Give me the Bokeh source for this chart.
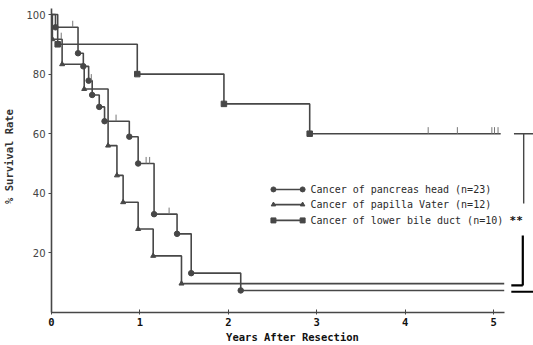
import numpy as np
from bokeh.plotting import figure
from bokeh.models import Range1d, FixedTicker
from bokeh.core.properties import value
from bokeh.embed import file_html
from bokeh.resources import INLINE

# Kaplan-Meier survival after resection: start time (years) of each level and survival (%)
pancreas_t = [0, 0.045, 0.30, 0.36, 0.42, 0.46, 0.54, 0.60, 0.88, 0.98, 1.16, 1.42, 1.58, 2.14, 5.12]
pancreas_s = [100, 95.7, 87.0, 82.6, 77.8, 73.0, 69.0, 64.2, 59.0, 50.0, 33.0, 26.4, 13.2, 7.4, 7.4]
papilla_t = [0, 0.01, 0.12, 0.37, 0.64, 0.74, 0.81, 0.98, 1.15, 1.47, 5.12]
papilla_s = [100, 91.7, 83.3, 75.0, 56.0, 46.0, 37.0, 28.0, 19.0, 9.7, 9.7]
bile_t = [0, 0.07, 0.97, 1.95, 2.92, 5.08]
bile_s = [100, 90.0, 80.0, 70.0, 60.0, 60.0]

# censored observations (years)
pancreas_cens = [0.24, 0.45, 0.73, 1.07, 1.11, 1.33]
papilla_cens = [0.11]
bile_cens = [4.26, 4.59, 4.98, 5.01, 5.05]

series_names = [
    "Cancer of pancreas head (n=23)",
    "Cancer of papilla Vater (n=12)",
    "Cancer of lower bile duct (n=10)",
]
x_ticks = [0, 1, 2, 3, 4, 5]
y_ticks = [20, 40, 60, 80, 100]

LINE = "#474747"
TEXT = "#2a2a2a"
MONO = "DejaVu Sans Mono"

p = figure(width=533, height=345, output_backend="svg", toolbar_location=None,
           x_range=Range1d(0, 5.451), y_range=Range1d(0, 104.7),
           min_border_left=50, min_border_right=0, min_border_top=0,
           min_border_bottom=33)
p.outline_line_color = None
p.xgrid.visible = False
p.ygrid.visible = False
p.background_fill_color = "white"
p.border_fill_color = "white"

# axes
xa = p.xaxis[0]
xa.ticker = FixedTicker(ticks=x_ticks)
xa.bounds = (0, 5.12)
xa.axis_label = "Years After Resection"
xa.axis_label_text_font = MONO
xa.axis_label_text_font_style = "bold"
xa.axis_label_text_font_size = "10.5px"
xa.axis_label_text_color = "#111111"
xa.axis_label_standoff = 2
xa.major_label_text_font = MONO
xa.major_label_text_font_style = "bold"
xa.major_label_text_font_size = "10.5px"
xa.major_label_text_color = "#111111"
xa.major_label_standoff = 3
xa.major_tick_in = 3
xa.major_tick_out = 2
xa.minor_tick_line_color = None
xa.axis_line_color = LINE
xa.axis_line_width = 1.6
xa.major_tick_line_color = LINE

ya = p.yaxis[0]
ya.ticker = FixedTicker(ticks=y_ticks)
ya.bounds = (0, 102)
ya.axis_label = "% Survival Rate"
ya.axis_label_text_font = MONO
ya.axis_label_text_font_style = "bold"
ya.axis_label_text_font_size = "10.5px"
ya.axis_label_text_color = "#333333"
ya.axis_label_standoff = 8
ya.major_label_text_font = "DejaVu Sans"
ya.major_label_text_font_size = "10px"
ya.major_label_text_color = "#444444"
ya.major_label_standoff = 3
ya.major_tick_in = 0
ya.major_tick_out = 3
ya.minor_tick_line_color = None
ya.axis_line_color = LINE
ya.axis_line_width = 1.6
ya.major_tick_line_color = LINE


def level_at(ts, ss, t):
    i = np.searchsorted(np.asarray(ts), t, side="right") - 1
    return ss[i]


curves = [
    (pancreas_t, pancreas_s, pancreas_cens, "circle", 5.5),
    (papilla_t, papilla_s, papilla_cens, "triangle", 5.0),
    (bile_t, bile_s, bile_cens, "square", 5.5),
]

for ts, ss, cens, marker, msize in curves:
    p.step(ts, ss, mode="after", line_color=LINE, line_width=1.6)
    p.scatter(ts[1:-1], ss[1:-1], marker=marker, size=msize,
              fill_color=LINE, line_color=LINE)
    cy = [level_at(ts, ss, c) for c in cens]
    p.segment(x0=cens, y0=cy, x1=cens, y1=[v + 2.2 for v in cy],
              line_color="#777777", line_width=1)

# legend drawn as line samples with markers at both ends
LEG_X0, LEG_X1, LEG_XT = 2.51, 2.84, 2.93
LEG_Y = [41.3, 36.2, 30.9]
for (ts, ss, cens, marker, msize), name, ly in zip(curves, series_names, LEG_Y):
    p.segment(x0=[LEG_X0], y0=[ly], x1=[LEG_X1], y1=[ly], line_color=LINE, line_width=1.6)
    p.scatter([LEG_X0, LEG_X1], [ly, ly], marker=marker, size=msize - 0.5,
              fill_color=LINE, line_color=LINE)
    p.text(x=[LEG_XT], y=[ly], text=[name], text_font=value(MONO),
           text_font_size="10px", text_baseline="middle", text_color=TEXT)

# significance bracket between bile duct and the two other groups
top = bile_s[-1]
p.segment(x0=[5.23], y0=[top], x1=[5.45], y1=[top], line_color=LINE, line_width=1.4)
p.segment(x0=[5.34], y0=[top], x1=[5.34], y1=[36.6], line_color=LINE, line_width=1.4)
p.text(x=[5.18], y=[LEG_Y[2]], text=["**"], text_font=value(MONO),
       text_font_size="11px", text_font_style="bold", text_baseline="middle",
       text_color="#111111")
low1 = papilla_s[-1] - 0.6
low2 = pancreas_s[-1] - 0.4
p.segment(x0=[5.33], y0=[25.8], x1=[5.33], y1=[low1], line_color="black", line_width=2.2)
p.segment(x0=[5.20], y0=[low1], x1=[5.33], y1=[low1], line_color="black", line_width=2.2)
p.segment(x0=[5.20], y0=[low2], x1=[5.45], y1=[low2], line_color="black", line_width=2.0)

open("out.html", "w").write(file_html(p, INLINE))
